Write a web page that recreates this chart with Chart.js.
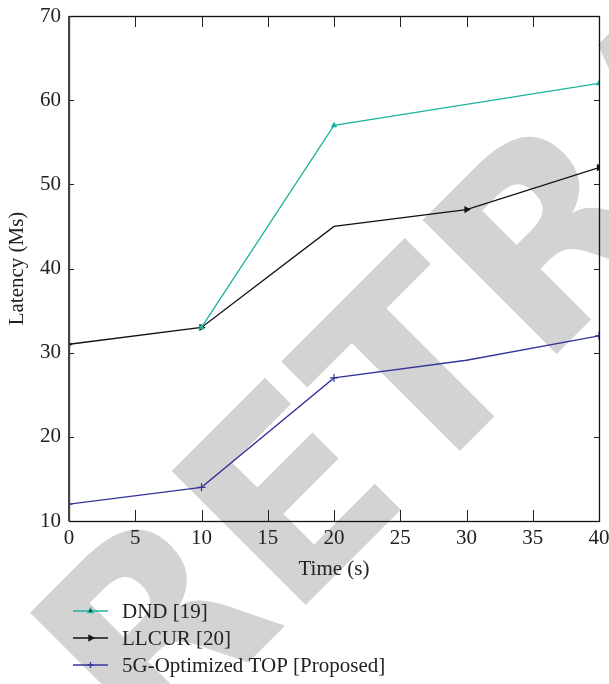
<!DOCTYPE html>
<html>
<head>
<meta charset="utf-8">
<script src="https://cdn.jsdelivr.net/npm/chart.js@4.4.1/dist/chart.umd.min.js"></script>
<style>
  html, body { margin: 0; padding: 0; background: #fff; }
  #wrap { width: 609px; height: 684px; position: relative; }
</style>
</head>
<body>
<div id="wrap"><canvas id="latencyChart"></canvas></div>
<script>
// data
const timeSec = [0, 10, 20, 30, 40];
const dndLatency = [null, 33, 57, null, 62];
const llcurLatency = [31, 33, 45, 47, 52];
const topLatency = [12, 14, 27, 29.1, 32];
const seriesNames = ['DND [19]', 'LLCUR [20]', '5G-Optimized TOP [Proposed]'];
const yTicks = [10, 20, 30, 40, 50, 60, 70];
const xTicks = [0, 5, 10, 15, 20, 25, 30, 35, 40];
const watermarkText = 'RETRACTED';

const SERIF = '"Liberation Serif", "DejaVu Serif", serif';
const FS = 21;

function toPoints(vals) {
  return timeSec.map((t, i) => ({ x: t, y: vals[i] }));
}

// light grey diagonal stamp behind everything
const watermark = {
  id: 'watermark',
  beforeDraw(chart) {
    const c = chart.ctx;
    c.save();
    c.fillStyle = '#d3d3d3';
    c.font = 'bold 260px "DejaVu Sans", sans-serif';
    c.textBaseline = 'alphabetic';
    c.rotate(-Math.PI / 4);
    const lead = c.measureText('RE').width;
    c.fillText(watermarkText, -58 - lead, 644);
    c.restore();
  }
};

// inward ticks on all four sides + box
const frameTicks = {
  id: 'frameTicks',
  afterDatasetsDraw(chart) {
    const c = chart.ctx;
    const a = chart.chartArea;
    const xs = chart.scales.x, ys = chart.scales.y;
    c.save();
    c.strokeStyle = '#222';
    c.lineWidth = 1;
    c.beginPath();
    xTicks.forEach(v => {
      const px = Math.round(xs.getPixelForValue(v)) + 0.5;
      c.moveTo(px, a.bottom); c.lineTo(px, a.bottom - 11);
      c.moveTo(px, a.top); c.lineTo(px, a.top + 11);
    });
    yTicks.forEach(v => {
      const py = Math.round(ys.getPixelForValue(v)) + 0.5;
      c.moveTo(a.left, py); c.lineTo(a.left + 5, py);
      c.moveTo(a.right, py); c.lineTo(a.right - 5, py);
    });
    c.stroke();
    c.lineWidth = 1.3;
    c.strokeStyle = '#111';
    c.strokeRect(Math.round(a.left) + 0.5, Math.round(a.top) + 0.5,
      Math.round(a.right - a.left), Math.round(a.bottom - a.top));
    c.strokeStyle = '#444';
    c.lineWidth = 2;
    c.beginPath();
    c.moveTo(Math.round(a.left), a.top); c.lineTo(Math.round(a.left), a.bottom);
    c.stroke();
    c.restore();
  }
};

// stacked legend under the x title
const stackLegend = {
  id: 'stackLegend',
  afterDraw(chart) {
    const c = chart.ctx;
    c.save();
    c.font = FS + 'px ' + SERIF;
    c.textBaseline = 'middle';
    chart.data.datasets.forEach((ds, i) => {
      const y = 611 + i * 27;
      c.strokeStyle = ds.borderColor;
      c.lineWidth = 1.3;
      c.beginPath();
      c.moveTo(73, y); c.lineTo(108, y);
      c.stroke();
      Chart.helpers.drawPoint(c, {
        pointStyle: ds.pointStyle, radius: 3, rotation: ds.rotation || 0, borderWidth: 1.2
      }, 90.5, y);
      c.fillStyle = '#222';
      c.fillText(ds.label, 122, y + 1);
    });
    c.restore();
  }
};

const data = {
  datasets: [
    {
      label: seriesNames[0],
      data: toPoints(dndLatency),
      borderColor: '#1bb4a0',
      backgroundColor: '#1bb4a0',
      pointStyle: 'triangle',
      pointRadius: [0, 2.5, 2.5, 0, 2.5],
      spanGaps: true
    },
    {
      label: seriesNames[1],
      data: toPoints(llcurLatency),
      borderColor: '#111',
      backgroundColor: '#111',
      pointStyle: 'triangle',
      rotation: 90,
      pointRotation: 90,
      pointRadius: [2.5, 3, 0, 3, 3]
    },
    {
      label: seriesNames[2],
      data: toPoints(topLatency),
      borderColor: '#34349a',
      backgroundColor: '#34349a',
      pointStyle: 'cross',
      pointRadius: [3.5, 4, 4, 0, 4]
    }
  ]
};

// kill the auto label overhang so the layout padding decides the plot box
function noOverhang(s) {
  s.paddingTop = 0; s.paddingBottom = 0; s.paddingLeft = 0; s.paddingRight = 0;
}

const config = {
  type: 'line',
  data: data,
  plugins: [watermark, frameTicks, stackLegend],
  options: {
    responsive: false,
    animation: false,
    devicePixelRatio: 1,
    layout: { padding: { top: 16, right: 10, bottom: 98, left: 0 } },
    elements: {
      line: { borderWidth: 1.3, tension: 0 },
      point: { borderWidth: 1.2, hoverRadius: 3 }
    },
    plugins: { legend: { display: false }, tooltip: { enabled: false } },
    scales: {
      x: {
        type: 'linear',
        min: 0, max: 40,
        afterBuildTicks: s => { s.ticks = xTicks.map(v => ({ value: v })); },
        afterFit: s => { s.height = 65; noOverhang(s); },
        grid: { display: false, drawTicks: false },
        border: { display: false },
        ticks: { padding: 5, color: '#222', font: { family: SERIF, size: FS } },
        title: { display: true, text: 'Time (s)', color: '#222', font: { family: SERIF, size: FS } }
      },
      y: {
        min: 10, max: 70,
        afterBuildTicks: s => { s.ticks = yTicks.map(v => ({ value: v })); },
        afterFit: s => { s.width = 69; noOverhang(s); },
        grid: { display: false, drawTicks: false },
        border: { display: false },
        ticks: { padding: 8, color: '#222', font: { family: SERIF, size: FS } },
        title: { display: true, text: 'Latency (Ms)', color: '#222', padding: { top: 5, bottom: 4 },
          font: { family: SERIF, size: FS } }
      }
    }
  }
};

const cv = document.getElementById('latencyChart');
cv.width = 609; cv.height = 684;
const latencyChart = new Chart(cv.getContext('2d'), config);
</script>
</body>
</html>
